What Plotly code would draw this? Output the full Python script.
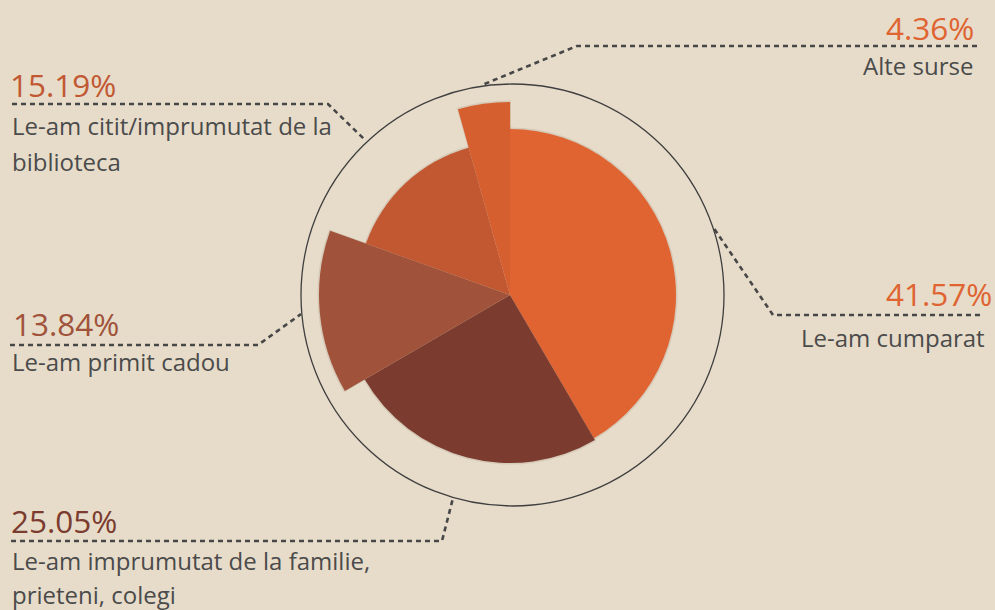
import plotly.graph_objects as go

# ---- data ----
categories = ["Le-am cumparat",
              "Le-am imprumutat de la familie, prieteni, colegi",
              "Le-am primit cadou",
              "Le-am citit/imprumutat de la biblioteca",
              "Alte surse"]
percentages = [41.57, 25.05, 13.84, 15.19, 4.36]
radius = [166, 168, 191, 153, 193]
colors = ["#DF6431", "#7B3C2F", "#A0533A", "#C15832", "#D65F30"]
pct_labels = ["41.57%", "25.05%", "13.84%", "15.19%", "4.36%"]

W, H = 995, 610
BG = "#E7DCCA"
TXT = "#4B4B4B"

def px(x):
    return x / W

def py(y):
    return 1 - y / H

# slice geometry from percentages
widths = [p * 3.6 for p in percentages]
thetas = []
acc = 0.0
for w in widths:
    thetas.append(acc + w / 2)
    acc += w

fig = go.Figure()

# faint soft shadow
fig.add_trace(go.Barpolar(
    r=[r + 1.5 for r in radius], theta=thetas, width=[w + 0.5 for w in widths],
    marker=dict(color="rgba(70,35,15,0.10)", line=dict(width=0)),
    hoverinfo="skip", showlegend=False))

fig.add_trace(go.Barpolar(
    r=radius, theta=thetas, width=widths,
    marker=dict(color=colors, line=dict(width=0)),
    text=categories, hoverinfo="text", showlegend=False))

cx, cy, R = 510, 295, 211
fig.update_layout(
    width=W, height=H,
    margin=dict(l=0, r=0, t=0, b=0),
    paper_bgcolor=BG, plot_bgcolor=BG,
    font=dict(family="Open Sans", color=TXT),
    polar=dict(
        domain=dict(x=[px(cx - R), px(cx + R)], y=[py(cy + R), py(cy - R)]),
        bgcolor="rgba(0,0,0,0)",
        bargap=0,
        barmode="overlay",
        radialaxis=dict(range=[0, R], visible=False, showgrid=False),
        angularaxis=dict(rotation=90, direction="clockwise", visible=False,
                         showgrid=False, showline=False, showticklabels=False),
    ),
)

# outer ring
fig.add_shape(type="circle", xref="paper", yref="paper",
              x0=px(301), x1=px(724), y0=py(506), y1=py(84),
              line=dict(color="#3F3F3F", width=1.3), layer="below")

# leader lines
leaders = [
    [(977, 46), (577, 46), (482, 85)],
    [(12, 104), (328, 104), (365, 140)],
    [(980, 315), (773, 315), (713, 227)],
    [(10, 345), (258, 345), (301, 314)],
    [(11, 541), (442, 541), (453, 498)],
]
for pts in leaders:
    path = "M " + " L ".join(f"{px(x)},{py(y)}" for x, y in pts)
    fig.add_shape(type="path", xref="paper", yref="paper", path=path,
                  line=dict(color="#474747", width=2.6, dash="5px,4px"))

def ann(text, x, y, size, color, anchor):
    fig.add_annotation(text=text, x=px(x), y=py(y), xref="paper", yref="paper",
                       xanchor=anchor, yanchor="middle", showarrow=False,
                       font=dict(family="Open Sans", size=size, color=color))

PS, LS = 31.5, 24
# percentage labels
ann(pct_labels[4], 976, 27, PS, colors[0], "right")
ann(pct_labels[3], 8, 84, PS, colors[3], "left")
ann(pct_labels[0], 994, 293, PS, colors[0], "right")
ann(pct_labels[2], 11, 324, PS, colors[2], "left")
ann(pct_labels[1], 9, 520, PS, colors[1], "left")

# category labels
ann("Alte surse", 975, 66, LS, TXT, "right")
ann("Le-am citit/imprumutat de la", 10, 125, LS, TXT, "left")
ann("biblioteca", 10, 161, LS, TXT, "left")
ann("Le-am cumparat", 987, 337, LS, TXT, "right")
ann("Le-am primit cadou", 10, 362, LS, TXT, "left")
ann("Le-am imprumutat de la familie,", 10, 560, LS, TXT, "left")
ann("prieteni, colegi", 10, 594, LS, TXT, "left")

fig.write_html("out.html", config={"displayModeBar": False},
               post_script="document.body.style.margin='0';document.body.style.overflow='hidden';")
